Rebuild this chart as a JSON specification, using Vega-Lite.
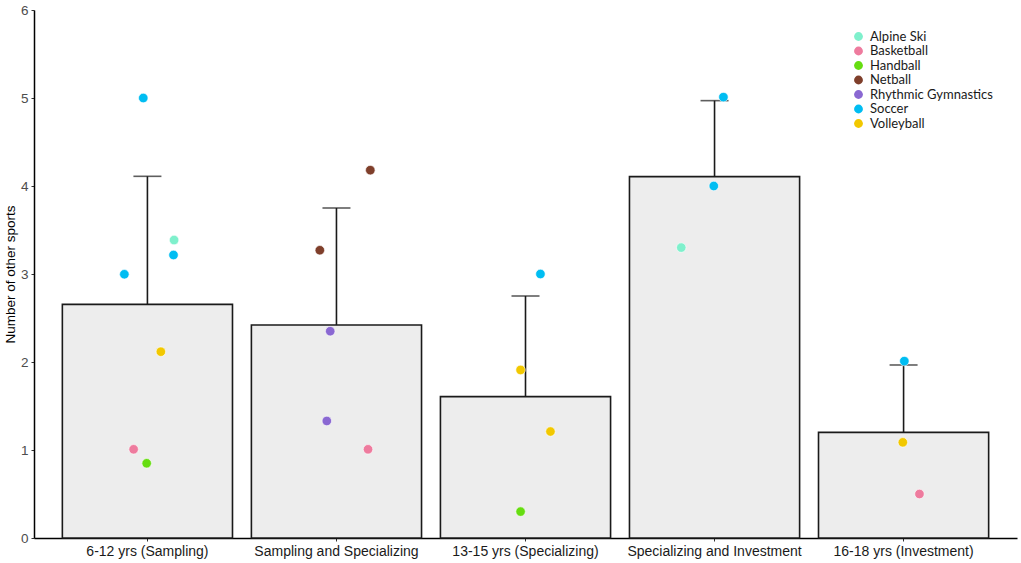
{
  "$schema": "https://vega.github.io/schema/vega-lite/v6.json",
  "width": 983,
  "height": 528,
  "autosize": "none",
  "padding": {"left": 34, "top": 10, "right": 4, "bottom": 25},
  "background": "white",
  "config": {
    "view": {"stroke": null},
    "font": "Liberation Sans",
    "axis": {"grid": false, "domainColor": "black", "domainWidth": 1.5, "tickColor": "#333333", "labelFont": "Liberation Sans", "titleFont": "Liberation Sans"}
  },
  "datasets": {
    "summary": [
      {"stage": "6-12 yrs (Sampling)", "mean": 2.655, "upper": 4.11},
      {"stage": "Sampling and Specializing", "mean": 2.42, "upper": 3.75},
      {"stage": "13-15 yrs (Specializing)", "mean": 1.606, "upper": 2.75},
      {"stage": "Specializing and Investment", "mean": 4.106, "upper": 4.97},
      {"stage": "16-18 yrs (Investment)", "mean": 1.2, "upper": 1.966}
    ],
    "points": [
      {"stage": "6-12 yrs (Sampling)", "sport": "Soccer", "value": 5.0, "jitter": -0.022},
      {"stage": "6-12 yrs (Sampling)", "sport": "Alpine Ski", "value": 3.386, "jitter": 0.141},
      {"stage": "6-12 yrs (Sampling)", "sport": "Soccer", "value": 3.216, "jitter": 0.138},
      {"stage": "6-12 yrs (Sampling)", "sport": "Soccer", "value": 2.997, "jitter": -0.122},
      {"stage": "6-12 yrs (Sampling)", "sport": "Volleyball", "value": 2.117, "jitter": 0.071},
      {"stage": "6-12 yrs (Sampling)", "sport": "Basketball", "value": 1.008, "jitter": -0.073},
      {"stage": "6-12 yrs (Sampling)", "sport": "Handball", "value": 0.849, "jitter": -0.004},
      {"stage": "Sampling and Specializing", "sport": "Netball", "value": 4.18, "jitter": 0.179},
      {"stage": "Sampling and Specializing", "sport": "Netball", "value": 3.27, "jitter": -0.088},
      {"stage": "Sampling and Specializing", "sport": "Rhythmic Gymnastics", "value": 2.35, "jitter": -0.033},
      {"stage": "Sampling and Specializing", "sport": "Rhythmic Gymnastics", "value": 1.33, "jitter": -0.051},
      {"stage": "Sampling and Specializing", "sport": "Basketball", "value": 1.008, "jitter": 0.167},
      {"stage": "13-15 yrs (Specializing)", "sport": "Soccer", "value": 3.0, "jitter": 0.079},
      {"stage": "13-15 yrs (Specializing)", "sport": "Volleyball", "value": 1.91, "jitter": -0.026},
      {"stage": "13-15 yrs (Specializing)", "sport": "Volleyball", "value": 1.21, "jitter": 0.132},
      {"stage": "13-15 yrs (Specializing)", "sport": "Handball", "value": 0.3, "jitter": -0.026},
      {"stage": "Specializing and Investment", "sport": "Soccer", "value": 5.01, "jitter": 0.047},
      {"stage": "Specializing and Investment", "sport": "Soccer", "value": 4.0, "jitter": -0.004},
      {"stage": "Specializing and Investment", "sport": "Alpine Ski", "value": 3.3, "jitter": -0.176},
      {"stage": "16-18 yrs (Investment)", "sport": "Soccer", "value": 2.01, "jitter": 0.004},
      {"stage": "16-18 yrs (Investment)", "sport": "Volleyball", "value": 1.087, "jitter": -0.004},
      {"stage": "16-18 yrs (Investment)", "sport": "Basketball", "value": 0.5, "jitter": 0.084}
    ]
  },
  "resolve": {"scale": {"x": "shared", "y": "shared", "xOffset": "independent"}},
  "layer": [
    {
      "data": {"name": "summary"},
      "mark": {"type": "bar", "fill": "#EDEDED", "stroke": "#1a1a1a", "strokeWidth": 1.6, "width": {"band": 1}},
      "encoding": {
        "x": {
          "field": "stage", "type": "nominal", "sort": null,
          "scale": {"paddingInner": 0.1, "paddingOuter": 0.15},
          "axis": {"title": null, "labelAngle": 0, "labelFontSize": 14, "labelColor": "#1a1a1a", "tickSize": 3, "labelPadding": 3, "domainWidth": 1.5}
        },
        "y": {
          "field": "mean", "type": "quantitative",
          "scale": {"domain": [0, 6], "nice": false},
          "axis": {"title": "Number of other sports", "values": [0, 1, 2, 3, 4, 5, 6], "format": "d", "labelFontSize": 13.5, "labelColor": "#4D4D4D", "tickSize": 3, "labelPadding": 3, "titleFontSize": 13.5, "titleFontWeight": "normal", "titleColor": "black", "titlePadding": 3}
        }
      }
    },
    {
      "data": {"name": "summary"},
      "mark": {"type": "rule", "color": "#1a1a1a", "strokeWidth": 1.6},
      "encoding": {
        "x": {"field": "stage", "type": "nominal", "sort": null},
        "y": {"field": "mean", "type": "quantitative"},
        "y2": {"field": "upper"}
      }
    },
    {
      "data": {"name": "summary"},
      "mark": {"type": "tick", "color": "#1a1a1a", "size": 28, "thickness": 1.6, "orient": "horizontal"},
      "encoding": {
        "x": {"field": "stage", "type": "nominal", "sort": null},
        "y": {"field": "upper", "type": "quantitative"}
      }
    },
    {
      "data": {"name": "points"},
      "mark": {"type": "circle", "size": 90, "opacity": 1, "stroke": "white", "strokeWidth": 0.6},
      "encoding": {
        "x": {"field": "stage", "type": "nominal", "sort": null},
        "xOffset": {"field": "jitter", "type": "quantitative", "scale": {"domain": [-0.45, 0.45], "nice": false, "zero": false}},
        "y": {"field": "value", "type": "quantitative"},
        "color": {
          "field": "sport", "type": "nominal",
          "scale": {
            "domain": ["Alpine Ski", "Basketball", "Handball", "Netball", "Rhythmic Gymnastics", "Soccer", "Volleyball"],
            "range": ["#7FF0CC", "#EE7B9E", "#66DD11", "#7F3F2B", "#8A68D2", "#00BDF2", "#F2C800"]
          },
          "legend": {
            "title": null, "orient": "none", "legendX": 818, "legendY": 20,
            "symbolType": "circle", "symbolSize": 78, "symbolStrokeWidth": 0,
            "labelFont": "Lato", "labelFontSize": 13, "labelColor": "#1a1a1a",
            "rowPadding": 0.5, "labelOffset": 5, "padding": 0
          }
        }
      }
    }
  ]
}
